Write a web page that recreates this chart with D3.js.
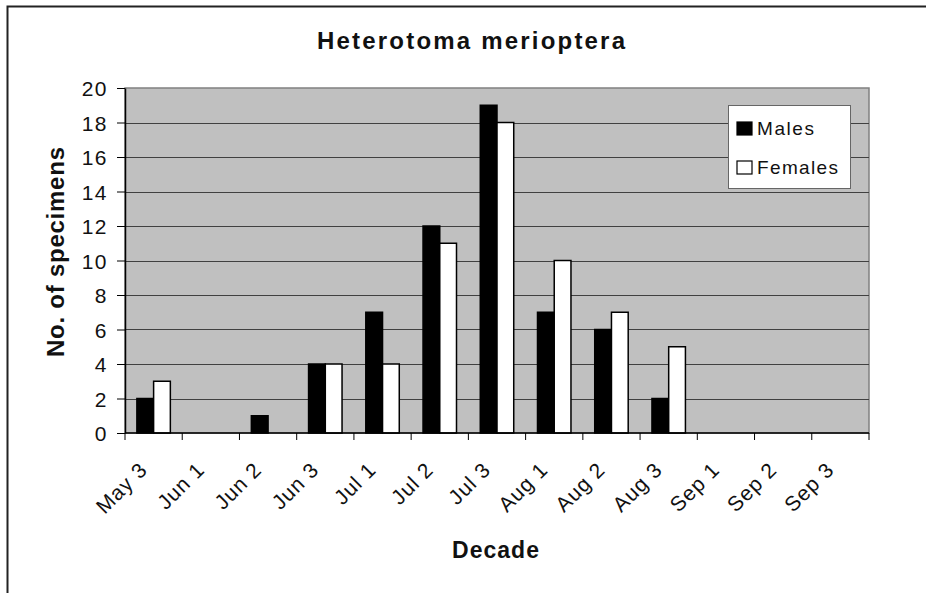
<!DOCTYPE html>
<html>
<head>
<meta charset="utf-8">
<script src="https://cdn.jsdelivr.net/npm/d3@7"></script>
<style>
  html, body { margin: 0; padding: 0; background: #fff; }
  text { font-family: "Liberation Sans", Arial, sans-serif; fill: #111; }
</style>
</head>
<body>
<svg id="chart" width="926" height="593"></svg>
<script>
// Decades (ten-day periods) of the collecting season
const decades = ["May 3", "Jun 1", "Jun 2", "Jun 3", "Jul 1", "Jul 2", "Jul 3",
                 "Aug 1", "Aug 2", "Aug 3", "Sep 1", "Sep 2", "Sep 3"];
// Specimen counts per decade
const males   = [2, 0, 1, 4, 7, 12, 19, 7, 6, 2, 0, 0, 0];
const females = [3, 0, 0, 4, 4, 11, 18, 10, 7, 5, 0, 0, 0];
const seriesNames = ["Males", "Females"];
const yTicks = [0, 2, 4, 6, 8, 10, 12, 14, 16, 18, 20];

const svg = d3.select("#chart");
const W = 926, H = 593;
const plot = { left: 125, top: 88, right: 869, bottom: 433 };
const FONT = "'Liberation Sans', Arial, sans-serif";

// Outer frame
svg.append("rect")
  .attr("x", 7.5).attr("y", 6.5)
  .attr("width", W + 10).attr("height", H + 10)
  .attr("fill", "#fff").attr("stroke", "#222").attr("stroke-width", 2);

const x = d3.scaleBand().domain(decades).range([plot.left, plot.right]);
const inner = d3.scaleBand().domain(seriesNames)
  .range([0, x.bandwidth()]).paddingInner(0).paddingOuter(0.71);
const y = d3.scaleLinear().domain([0, 20]).range([plot.bottom, plot.top]);

// Plot background
svg.append("rect")
  .attr("x", plot.left).attr("y", plot.top)
  .attr("width", plot.right - plot.left).attr("height", plot.bottom - plot.top)
  .attr("fill", "#c0c0c0").attr("stroke", "#808080").attr("stroke-width", 1.5);

// Horizontal gridlines
svg.append("g").selectAll("line")
  .data(yTicks.filter(d => d > 0 && d < 20))
  .join("line")
  .attr("x1", plot.left).attr("x2", plot.right)
  .attr("y1", d => Math.round(y(d)) + 0.5).attr("y2", d => Math.round(y(d)) + 0.5)
  .attr("stroke", "#404040").attr("stroke-width", 1);

// Bars
const series = [
  { name: "Males", values: males, fill: "#000" },
  { name: "Females", values: females, fill: "#fff" }
];
series.forEach(s => {
  svg.append("g").selectAll("rect")
    .data(decades.map((d, i) => ({ d, v: s.values[i] })).filter(e => e.v > 0))
    .join("rect")
    .attr("x", e => x(e.d) + inner(s.name))
    .attr("y", e => y(e.v))
    .attr("width", inner.bandwidth())
    .attr("height", e => y(0) - y(e.v))
    .attr("fill", s.fill)
    .attr("stroke", "#000").attr("stroke-width", 1.5);
});

// Y axis
const yAxis = svg.append("g")
  .attr("transform", `translate(${plot.left},0)`)
  .call(d3.axisLeft(y).tickValues(yTicks).tickSize(8).tickPadding(9).tickSizeOuter(0));
yAxis.select(".domain").attr("stroke", "#000").attr("stroke-width", 1.5);
yAxis.selectAll(".tick line").attr("stroke", "#000");
yAxis.selectAll(".tick text")
  .attr("font-size", 21).attr("fill", "#111")
  .attr("letter-spacing", 1.5)
  .attr("dy", "0.36em")
  .style("font-family", FONT);

// X axis: ticks between categories
const xAxisG = svg.append("g").attr("transform", `translate(0,${plot.bottom})`);
xAxisG.append("line")
  .attr("x1", plot.left).attr("x2", plot.right)
  .attr("y1", 0).attr("y2", 0)
  .attr("stroke", "#000").attr("stroke-width", 1.5);
const boundaries = decades.map(d => x(d)).concat([x(decades[decades.length - 1]) + x.bandwidth()]);
xAxisG.selectAll("line.tk")
  .data(boundaries)
  .join("line").attr("class", "tk")
  .attr("x1", d => d).attr("x2", d => d)
  .attr("y1", 0).attr("y2", 7)
  .attr("stroke", "#000");
xAxisG.selectAll("text")
  .data(decades)
  .join("text")
  .attr("transform", d => `translate(${x(d) + x.bandwidth() / 2 - 5},${38}) rotate(-45)`)
  .attr("text-anchor", "end")
  .attr("font-size", 21)
  .attr("letter-spacing", 1)
  .text(d => d);

// Titles
svg.append("text")
  .attr("x", 317).attr("y", 49)
  .attr("font-size", 24).attr("font-weight", "bold")
  .attr("textLength", 308).attr("lengthAdjust", "spacing")
  .text("Heterotoma merioptera");

svg.append("text")
  .attr("transform", `translate(64,357) rotate(-90)`)
  .attr("font-size", 24).attr("font-weight", "bold")
  .attr("textLength", 210).attr("lengthAdjust", "spacing")
  .text("No. of specimens");

svg.append("text")
  .attr("x", 452).attr("y", 558)
  .attr("font-size", 23).attr("font-weight", "bold")
  .attr("textLength", 87).attr("lengthAdjust", "spacing")
  .text("Decade");

// Legend
const legend = svg.append("g");
legend.append("rect")
  .attr("x", 728.5).attr("y", 105.5).attr("width", 122).attr("height", 83)
  .attr("fill", "#fff").attr("stroke", "#666").attr("stroke-width", 1);
const legendLen = { Males: 57, Females: 81 };
series.forEach((s, i) => {
  const base = 135 + i * 39;
  legend.append("rect")
    .attr("x", 737).attr("y", base - 13).attr("width", 15).attr("height", 13)
    .attr("fill", s.fill).attr("stroke", "#000").attr("stroke-width", 1.2);
  legend.append("text")
    .attr("x", 757).attr("y", base)
    .attr("font-size", 19)
    .attr("textLength", legendLen[s.name]).attr("lengthAdjust", "spacing")
    .text(s.name);
});
</script>
</body>
</html>
